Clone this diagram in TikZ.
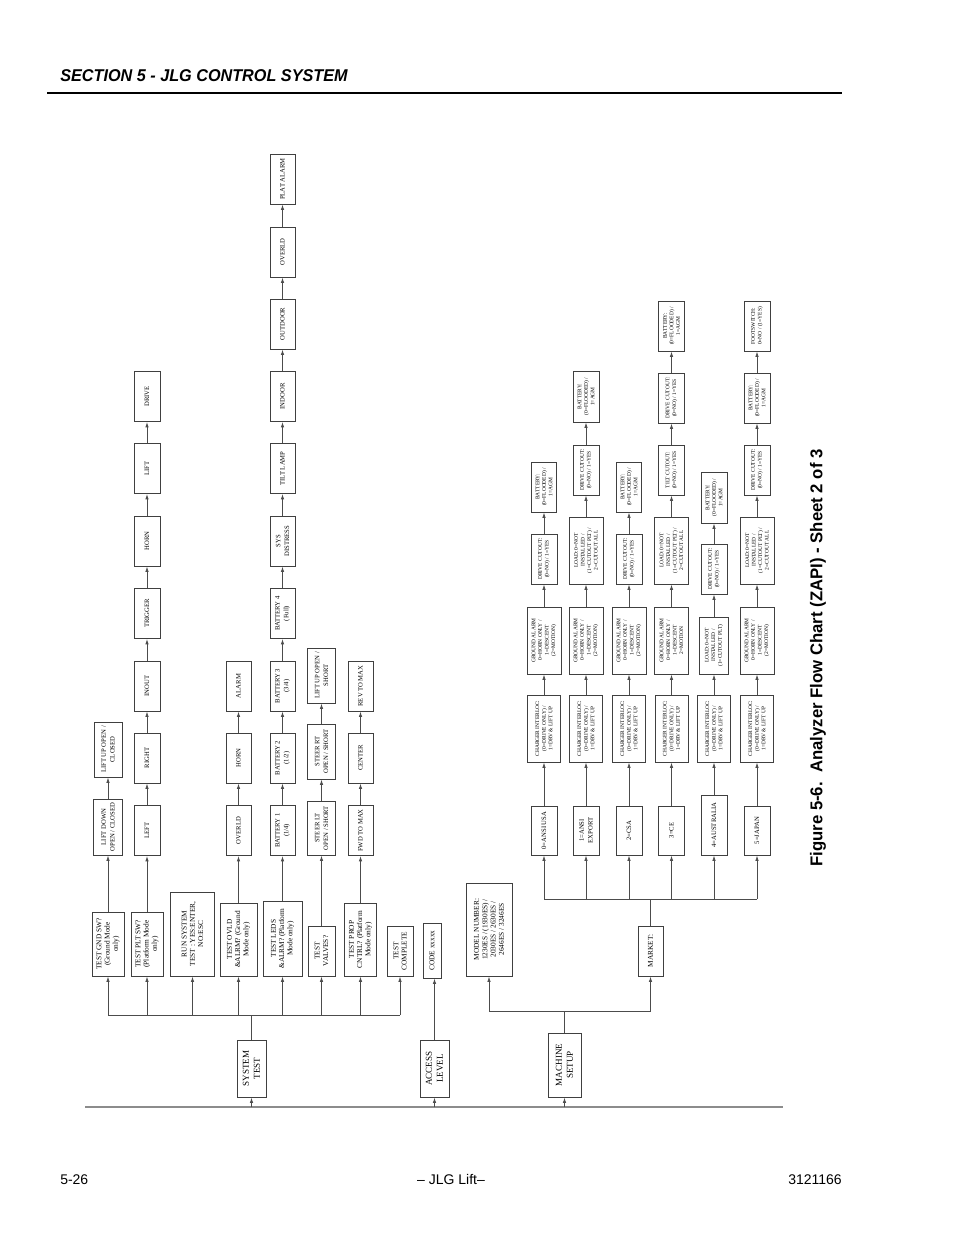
\documentclass[tikz,border=0pt]{standalone}
\usepackage{fontspec}
\setmainfont{Liberation Serif}
\newfontfamily\hdrfont[FakeStretch=0.95]{Liberation Sans}
\newfontfamily\capfont[FakeStretch=0.98]{Liberation Sans}
\newfontfamily\footfont{Liberation Sans}
\usetikzlibrary{arrows.meta}
\newcommand\bx[7]{\node[#1,minimum width=#6*0.75pt,minimum height=#5*0.75pt] (#2) at (#3,#4) {#7};}
\begin{document}
\begin{tikzpicture}[x=0.75pt,y=-0.75pt,
  box/.style={draw=black!75,line width=0.75pt,rotate=90,inner sep=0.5pt,align=center,fill=white},
  rt/.style={box,font=\fontsize{6.8}{8.2}\selectfont},
  ra/.style={box,font=\fontsize{5.5}{6.2}\selectfont},
  ch/.style={box,font=\fontsize{5}{6.6}\selectfont},
  mk/.style={box,font=\fontsize{4.1}{4.9}\selectfont},
  ln/.style={draw=black!70,line width=0.6pt},
  arr/.style={draw=black!70,line width=0.6pt,-{Latex[length=4pt,width=2.6pt]}}]
\useasboundingbox (0,0) rectangle (954,1235);
% header and footer
\node[anchor=base west,inner sep=0,font=\hdrfont\bfseries\itshape\fontsize{12.8}{14}\selectfont] (hdr) at (60,81) {SECTION 5 - JLG CONTROL SYSTEM};
\coordinate (ruleL) at (47,93); \coordinate (ruleR) at (842,93);
\draw[line width=1.1pt] (ruleL) -- (ruleR);
\node[rotate=90,inner sep=0,font=\capfont\bfseries\fontsize{12.8}{14}\selectfont] (cap) at (818,658) {Figure 5-6.\ \ Analyzer Flow Chart (ZAPI) - Sheet 2 of 3};
\node[anchor=base west,inner sep=0,font=\footfont\fontsize{10.5}{12}\selectfont] (pg) at (60,1184) {5-26};
\node[anchor=base,inner sep=0,font=\footfont\fontsize{10.5}{12}\selectfont] (mid) at (451,1184) {– JLG Lift–};
\node[anchor=base east,inner sep=0,font=\footfont\fontsize{10.5}{12}\selectfont] (doc) at (842,1184) {3121166};

% roots
\bx{rt}{sys}{251.5}{1068.5}{29}{57}{SYSTEM\\TEST}
\bx{rt}{acc}{434.5}{1068.5}{29}{57}{ACCESS\\LEVEL}
\bx{rt}{mach}{564.5}{1065}{33}{64}{MACHINE\\SETUP}
\coordinate (baseL) at (85,1107); \coordinate (baseR) at (783,1107);
\draw[draw=black!45,line width=1.4pt] (baseL) -- (baseR);
\foreach \n in {sys,acc,mach} {\draw[arr] (\n.west |- baseL) -- (\n.west);}

% system test row
\bx{ra}{t1}{108}{944}{32}{64}{TEST GND SW?\\(Ground Mode\\only)}
\bx{ra}{t2}{147}{944}{32}{64}{TEST PLT SW?\\(Platform Mode\\only)}
\bx{ra}{t3}{192.5}{934}{44}{84}{RUN SYSTEM\\TEST : YES:ENTER,\\NO:ESC}
\bx{ra}{t4}{238.5}{939.5}{37}{73}{TEST OVLD\\\&ALRM? (Ground\\Mode only)}
\bx{ra}{t5}{282.5}{938.5}{39}{75}{TEST LEDS\\\&ALRM? (Platform\\Mode only)}
\bx{ra}{t6}{321.5}{951}{27}{50}{TEST\\VALVES?}
\bx{ra}{t7}{360.5}{939.5}{32}{73}{TEST PROP\\CNTRL? (Platform\\Mode only)}
\bx{ra}{t8}{400}{951}{26}{50}{TEST\\COMPLETE}
\bx{ra}{code}{432}{950.5}{18}{55}{CODE xxxxx}
\coordinate (stbus) at (0,1015);
\draw[ln] (sys.east) -- (sys.east |- stbus);
\draw[ln] (t1.west |- stbus) -- (t8.west |- stbus);
\foreach \n in {t1,t2,t3,t4,t5,t6,t7,t8} {\draw[arr] (\n.west |- stbus) -- (\n.west);}
\draw[arr] (acc.east) -- (acc.east |- code.west);

% column 1
\bx{ch}{a1}{108}{827}{29}{56}{LIFT DOWN\\OPEN / CLOSED}
\bx{ch}{a2}{108}{749.5}{28}{55}{LIFT UP OPEN /\\CLOSED}
% column 2
\bx{ch}{b1}{147}{830.5}{26}{50}{LEFT}
\bx{ch}{b2}{147}{758}{26}{50}{RIGHT}
\bx{ch}{b3}{147}{686}{26}{50}{INOUT}
\bx{ch}{b4}{147}{613.5}{26}{50}{TRIGGER}
\bx{ch}{b5}{147}{541}{26}{50}{HORN}
\bx{ch}{b6}{147}{468.5}{26}{50}{LIFT}
\bx{ch}{b7}{147}{396.5}{26}{50}{DRIVE}
% column 4
\bx{ch}{d1}{238.5}{830.5}{25}{50}{OVERLD}
\bx{ch}{d2}{238.5}{758}{25}{50}{HORN}
\bx{ch}{d3}{238.5}{686}{25}{50}{ALARM}
% column 5
\bx{ch}{e1}{282.5}{830.5}{25}{50}{BATTERY 1\\(1/4)}
\bx{ch}{e2}{282.5}{758}{25}{50}{BATTERY 2\\(1/2)}
\bx{ch}{e3}{282.5}{686}{25}{50}{BATTERY 3\\(3/4)}
\bx{ch}{e4}{282.5}{613.5}{25}{50}{BATTERY 4\\(Full)}
\bx{ch}{e5}{282.5}{541}{25}{50}{SYS\\DISTRESS}
\bx{ch}{e6}{282.5}{468.5}{25}{50}{TILT LAMP}
\bx{ch}{e7}{282.5}{396.5}{25}{50}{INDOOR}
\bx{ch}{e8}{282.5}{324}{25}{50}{OUTDOOR}
\bx{ch}{e9}{282.5}{252}{25}{50}{OVERLD}
\bx{ch}{e10}{282.5}{179}{25}{50}{PLAT ALARM}
% column 6
\bx{ch}{f1}{321.5}{828}{28}{54}{STEER LT\\OPEN / SHORT}
\bx{ch}{f2}{321.5}{751.5}{28}{55}{STEER RT\\OPEN / SHORT}
\bx{ch}{f3}{321.5}{675.5}{28}{55}{LIFT UP OPEN /\\SHORT}
% column 7
\bx{ch}{g1}{360.5}{830.5}{25}{50}{FWD TO MAX}
\bx{ch}{g2}{360.5}{758}{25}{50}{CENTER}
\bx{ch}{g3}{360.5}{686}{25}{50}{REV TO MAX}

\foreach \a/\b in {t1/a1,a1/a2,t2/b1,b1/b2,b2/b3,b3/b4,b4/b5,b5/b6,b6/b7,t4/d1,d1/d2,d2/d3,t5/e1,e1/e2,e2/e3,e3/e4,e4/e5,e5/e6,e6/e7,e7/e8,e8/e9,e9/e10,t6/f1,f1/f2,f2/f3,t7/g1,g1/g2,g2/g3} {\draw[arr] (\a.east) -- (\b.west);}

% machine setup
\bx{ra}{model}{489}{929.5}{46}{93}{MODEL NUMBER:\\1230ES / (1930ES) /\\2030ES / 2630ES /\\2646ES / 3246ES}
\bx{ra}{market}{650.5}{951}{25}{50}{MARKET:}
\coordinate (msbus) at (0,1011);
\draw[ln] (mach.east) -- (mach.east |- msbus);
\draw[ln] (model.west |- msbus) -- (market.west |- msbus);
\draw[arr] (model.west |- msbus) -- (model.west);
\draw[arr] (market.west |- msbus) -- (market.west);

\bx{ch}{m0}{544}{830.5}{26}{49}{0=ANSI USA}
\bx{ch}{m1}{586}{830.5}{26}{49}{1=ANSI\\EXPORT}
\bx{ch}{m2}{629}{830.5}{26}{49}{2=CSA}
\bx{ch}{m3}{671.5}{830.5}{26}{49}{3=CE}
\bx{ch}{m4}{714}{825}{26}{60}{4=AUSTRALIA}
\bx{ch}{m5}{757}{830.5}{26}{49}{5=JAPAN}
\coordinate (mkbus) at (0,899);
\draw[ln] (market.east) -- (market.east |- mkbus);
\draw[ln] (m0.west |- mkbus) -- (m5.west |- mkbus);
\foreach \n in {m0,m1,m2,m3,m4,m5} {\draw[arr] (\n.west |- mkbus) -- (\n.west);}

% charger interlock row
\foreach \i/\x in {0/544,1/586,2/629,3/671.5,4/714,5/757} {\bx{mk}{c\i}{\x}{728.5}{33}{67}{CHARGER INTERLOC:\\(0=DRIVE ONLY) /\\1=DRV \& LIFT UP}}
% ground alarm row
\bx{mk}{g0}{544}{640.5}{34}{67}{GROUND ALARM\\0=HORN ONLY /\\1=DESCENT\\(2=MOTION)}
\bx{mk}{g1x}{586}{640.5}{34}{67}{GROUND ALARM\\0=HORN ONLY /\\1=DESCENT\\(2=MOTION)}
\bx{mk}{g2x}{629}{640.5}{34}{67}{GROUND ALARM\\0=HORN ONLY /\\1=DESCENT\\(2=MOTION)}
\bx{mk}{g3x}{671.5}{640.5}{34}{67}{GROUND ALARM\\0=HORN ONLY /\\1=DESCENT\\2=MOTION}
\bx{mk}{g4x}{714}{645.5}{29}{57}{LOAD:0=NOT\\INSTALLED /\\(1=CUTOUT PLT)}
\bx{mk}{g5x}{757}{640.5}{34}{67}{GROUND ALARM\\0=HORN ONLY /\\1=DESCENT\\(2=MOTION)}
% third row
\bx{mk}{h0}{544}{559}{26}{50}{DRIVE CUTOUT:\\(0=NO) / 1=YES}
\bx{mk}{h1}{586}{550.5}{34}{67}{LOAD:0=NOT\\INSTALLED /\\(1=CUTOUT PLT) /\\2=CUTOUT ALL}
\bx{mk}{h2}{629}{559}{26}{50}{DRIVE CUTOUT:\\(0=NO) / 1=YES}
\bx{mk}{h3}{671.5}{550.5}{34}{67}{LOAD:0=NOT\\INSTALLED /\\(1=CUTOUT PLT) /\\2=CUTOUT ALL}
\bx{mk}{h4}{714}{569}{26}{50}{DRIVE CUTOUT:\\(0=NO) / 1=YES}
\bx{mk}{h5}{757}{550.5}{34}{67}{LOAD:0=NOT\\INSTALLED /\\(1=CUTOUT PLT) /\\2=CUTOUT ALL}
% fourth row
\bx{mk}{i0}{544}{487}{25}{50}{BATTERY:\\(0=FLOODED) /\\1=AGM}
\bx{mk}{i1}{586}{470}{26}{50}{DRIVE CUTOUT:\\(0=NO) / 1=YES}
\bx{mk}{i2}{629}{487}{25}{50}{BATTERY:\\(0=FLOODED) /\\1=AGM}
\bx{mk}{i3}{671.5}{470}{26}{50}{TILT CUTOUT:\\(0=NO) / 1=YES}
\bx{mk}{i4}{714}{497.5}{26}{51}{BATTERY:\\(0=FLOODED) /\\1=AGM}
\bx{mk}{i5}{757}{470}{26}{50}{DRIVE CUTOUT:\\(0=NO) / 1=YES}
% fifth row
\bx{mk}{j1}{586}{396.5}{26}{51}{BATTERY:\\(0=FLOODED) /\\1=AGM}
\bx{mk}{j3}{671.5}{398}{26}{50}{DRIVE CUTOUT:\\(0=NO) / 1=YES}
\bx{mk}{j5}{757}{398}{26}{50}{BATTERY:\\(0=FLOODED) /\\1=AGM}
% sixth row
\bx{mk}{k3}{671.5}{326}{26}{50}{BATTERY:\\(0=FLOODED) /\\1=AGM}
\bx{mk}{k5}{757}{326}{26}{50}{FOOTSWITCH:\\0=NO / (1=YES)}

\foreach \a/\b in {m0/c0,m1/c1,m2/c2,m3/c3,m4/c4,m5/c5,c0/g0,c1/g1x,c2/g2x,c3/g3x,c4/g4x,c5/g5x,g0/h0,g1x/h1,g2x/h2,g3x/h3,g4x/h4,g5x/h5,h0/i0,h1/i1,h2/i2,h3/i3,h4/i4,h5/i5,i1/j1,i3/j3,i5/j5,j3/k3,j5/k5} {\draw[arr] (\a.east) -- (\b.west);}
\end{tikzpicture}
\end{document}
